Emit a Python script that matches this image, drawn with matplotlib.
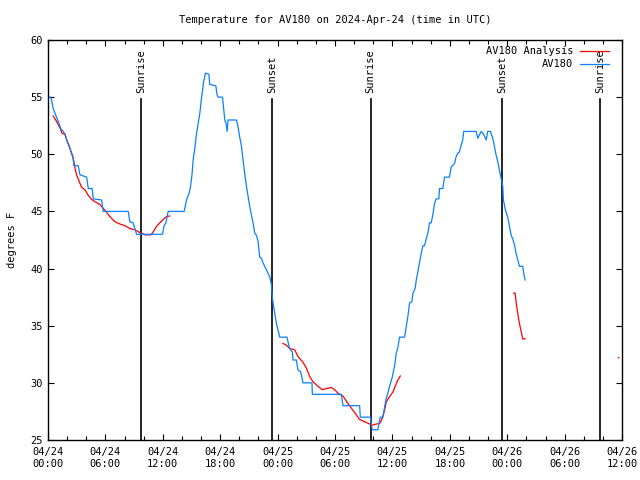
import numpy as np
from matplotlib import pyplot as plt
from matplotlib.ticker import MultipleLocator

nan = np.nan

# hours since 04/24 00:00 UTC, temperature in F
av180_hours = [0.0, 0.31, 0.55, 0.91, 1.15, 1.36, 1.6, 1.88, 2.06, 2.3, 2.58, 2.71, 3.16, 3.34,
               4.04, 4.21, 4.62, 4.73, 5.6, 5.77, 8.38, 8.56, 8.9, 9.08, 9.26, 11.97, 12.11, 12.32,
               12.56, 14.23, 14.48, 14.75, 14.9, 15.06, 15.17, 15.34, 15.52, 15.69, 15.87, 16.04,
               16.15, 16.28, 16.46, 16.81, 16.91, 17.54, 17.67, 17.78, 18.24, 18.37, 18.48, 18.61,
               18.72, 18.82, 19.7, 19.86, 20.04, 20.22, 20.39, 20.56, 20.74, 20.91, 21.09, 21.26,
               21.43, 21.61, 21.79, 21.95, 22.13, 22.31, 22.47, 22.76, 23.0, 23.17, 23.35, 23.41,
               23.52, 23.7, 23.87, 24.04, 24.22, 24.98, 25.08, 25.26, 25.54, 25.6, 25.96, 26.13,
               26.38, 26.48, 26.65, 27.59, 27.63, 30.66, 30.83, 32.57, 32.64, 33.69, 33.79, 33.89,
               34.48, 34.58, 34.73, 35.0, 35.18, 35.36, 35.52, 35.7, 35.98, 36.22, 36.4, 36.57,
               36.74, 37.27, 37.44, 37.61, 37.79, 38.03, 38.13, 38.38, 38.49, 38.65, 38.83, 39.0,
               39.18, 39.35, 39.53, 39.7, 39.87, 40.05, 40.22, 40.4, 40.57, 40.85, 40.92, 41.26,
               41.44, 41.96, 42.14, 42.31, 42.49, 42.66, 42.83, 43.0, 43.18, 43.35, 43.45, 44.75,
               44.92, 45.09, 45.27, 45.51, 45.79, 45.96, 46.24, 46.48, 46.66, 46.84, 47.0, 47.18,
               47.36, 47.53, 47.6, 47.81, 48.05, 48.23, 48.41, 48.57, 48.75, 48.93, 49.27, 49.62,
               49.72, 49.86]
av180_temp = [55.0, 55.0, 54.0, 53.2, 52.7, 52.2, 52.0, 51.5, 51.0, 50.5, 49.9, 49.0, 49.0, 48.2,
              48.0, 47.0, 47.0, 46.1, 46.0, 45.0, 45.0, 44.1, 44.0, 43.5, 43.0, 43.0, 43.7, 44.0,
              45.0, 45.0, 46.0, 46.6, 47.2, 48.3, 49.5, 50.5, 51.8, 52.7, 53.6, 54.9,
              55.6, 56.4, 57.1, 57.0, 56.1, 56.0, 55.2, 55.0, 55.0, 53.9, 53.0, 52.7,
              52.0, 53.0, 53.0, 52.4, 51.5, 50.7, 49.5, 48.3, 47.2, 46.3, 45.4, 44.7,
              44.0, 43.1, 42.9, 42.4, 41.0, 40.9, 40.5, 40.0, 39.6, 39.3, 38.6, 37.8,
              37.0, 36.1, 35.2, 34.6, 34.0, 34.0, 33.6, 33.0, 32.7, 32.0, 32.0, 31.1,
              31.0, 30.7, 30.0, 30.0, 29.0, 29.0, 28.0, 28.0, 27.0, 27.0, 26.4, 25.9,
              25.9, 26.4, 27.0, 27.0, 27.9, 28.65, 29.1, 29.7, 30.5, 31.5, 32.6, 33.1,
              34.0, 34.0, 34.9, 35.8, 37.0, 37.1, 37.8, 38.3, 39.0, 39.7, 40.5, 41.3,
              42.0, 42.0, 42.6, 43.1, 44.0, 44.0, 44.7, 45.7, 46.1, 46.1, 47.0, 47.0,
              48.0, 48.0, 48.9, 49.0, 49.2, 49.8, 50.1, 50.2, 50.8, 51.25, 52.0, 52.0,
              51.4, 51.7, 52.0, 51.8, 51.25, 52.0, 52.0, 51.4, 50.7, 49.9, 49.4, 48.6,
              47.9, 47.2, 46.0, 45.1, 44.5, 43.7, 42.9, 42.6, 42.1, 41.3, 40.2, 40.2,
              39.6, 39.0]

analysis_hours = [0.55, 0.91, 1.25, 1.49, 1.77, 1.95, 2.19, 2.4, 2.64, 2.82, 2.99, 3.27, 3.52,
                  3.86, 4.21, 4.56, 4.91, 5.43, 5.95, 6.47, 6.99, 7.52, 8.04, 8.56, 9.08, 9.6,
                  10.13, 10.75, 10.99, 11.35, 11.69, 12.04, 12.39, 12.73, nan,
                  24.56, 24.91, 25.26, 25.78, 26.13, 26.65, 27.0, 27.35, 27.69, 28.22, 28.67,
                  29.09, 29.61, 29.96, 30.3, 30.82, 31.18, 31.52, 32.05, 32.57, 33.09, 33.61,
                  33.96, 34.31, 34.66, 34.94, 35.18, 35.36, 35.7, 36.05, 36.33, 36.57, 36.82, nan,
                  48.67, 48.82, 48.92, 49.09, 49.27, 49.45, 49.62, 49.87, nan,
                  59.6, 59.65]
analysis_temp = [53.35, 52.85, 52.3, 51.8, 51.8, 51.25, 50.8, 50.2, 49.65, 48.8, 48.2, 47.6, 47.1,
                 46.9, 46.4, 46.05, 45.85, 45.6, 45.1, 44.55, 44.1, 43.9, 43.75, 43.5, 43.4, 43.15,
                 42.95, 42.95, 43.2, 43.7, 44.0, 44.3, 44.55, 44.6, nan,
                 33.45, 33.3, 33.0, 32.9, 32.3, 31.8, 31.3, 30.55, 30.1, 29.7, 29.4,
                 29.5, 29.6, 29.4, 29.1, 28.85, 28.4, 28.0, 27.4, 26.8, 26.6, 26.4,
                 26.3, 26.4, 26.45, 26.9, 27.6, 28.35, 28.8, 29.2, 29.8, 30.25, 30.6, nan,
                 37.85, 37.85, 37.1, 36.1, 35.2, 34.5, 33.85, 33.85, nan,
                 32.2, 32.2]

sun_hours = [9.75, 23.4, 33.73, 47.45, 57.7]
sun_labels = ['Sunrise', 'Sunset', 'Sunrise', 'Sunset', 'Sunrise']

tick_labels = ['04/24\n00:00', '04/24\n06:00', '04/24\n12:00', '04/24\n18:00',
               '04/25\n00:00', '04/25\n06:00', '04/25\n12:00', '04/25\n18:00',
               '04/26\n00:00', '04/26\n06:00', '04/26\n12:00']

plt.rcParams['font.family'] = ['DejaVu Sans Mono']
plt.rcParams['font.size'] = 7.5

fig = plt.figure(figsize=(6.4, 4.8), dpi=100)
ax = fig.add_axes([0.075, 0.0833, 0.897, 0.8334])

for h, lab in zip(sun_hours, sun_labels):
    ax.plot([h, h], [25, 54.8], color='black', lw=1.2)
    ax.text(h, 55.4, lab, rotation=90, ha='center', va='bottom', fontsize=7.5)

ax.plot(analysis_hours, analysis_temp, color='#ff0000', lw=0.9, label='AV180 Analysis')
ax.plot(av180_hours, av180_temp, color='#0a80ff', lw=0.9, label='AV180')

ax.set_xlim(0, 60)
ax.set_ylim(25, 60)
ax.set_xticks(range(0, 61, 6))
ax.set_xticklabels(tick_labels)
ax.xaxis.set_minor_locator(MultipleLocator(2))
ax.set_yticks(range(25, 61, 5))
ax.tick_params(which='both', direction='in', top=True, right=True, length=4, width=0.8)
ax.tick_params(which='minor', length=3)
ax.tick_params(axis='x', pad=5)
for s in ax.spines.values():
    s.set_linewidth(1.0)

ax.set_ylabel('degrees F', labelpad=10)
ax.set_title('Temperature for AV180 on 2024-Apr-24 (time in UTC)', fontsize=7.5, pad=12)
ax.legend(loc='upper right', bbox_to_anchor=(0.988, 1.0), frameon=False, markerfirst=False,
          handlelength=2.8, borderaxespad=0.2, labelspacing=0.3, handletextpad=0.6)

plt.savefig('out.png')
